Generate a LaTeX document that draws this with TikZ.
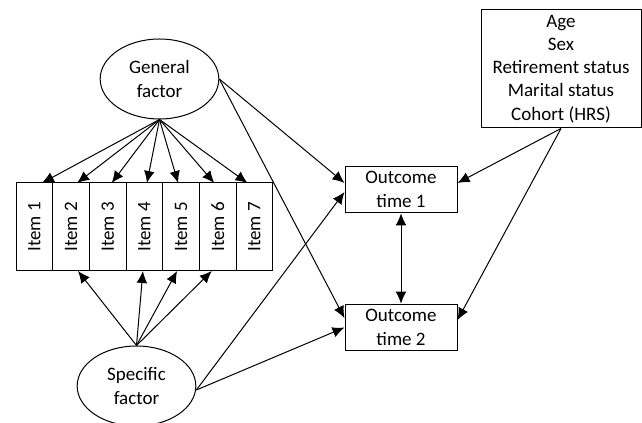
\documentclass[tikz,border=0pt]{standalone}
\usepackage{fontspec}
\setmainfont{Carlito}
\usetikzlibrary{arrows.meta,positioning,shapes}

\begin{document}
\begin{tikzpicture}[x=0.75pt,y=-0.75pt,
            factor/.style={draw,ellipse,minimum width=89pt,minimum height=60pt,align=center,inner sep=0pt},
            item/.style={draw,rectangle,minimum width=27.5pt,minimum height=66pt,inner sep=0pt,outer sep=0pt},
            outcome/.style={draw,rectangle,minimum width=84pt,minimum height=35pt,align=center,inner sep=0pt},
            covar/.style={draw,rectangle,minimum width=120pt,minimum height=88.5pt,align=center,inner sep=0pt},
            every edge/.style={draw,->,line width=0.75pt},
            >={Latex[length=9pt,width=8pt]},
            line width=0.75pt,
            font=\fontsize{14.25pt}{17.4pt}\selectfont
          ]
          \useasboundingbox (0,0) rectangle (642,423);

          %factors
          \node[factor] (gen) at (159.5,79) {General\\factor};
          \node[factor] (spec) at (136.5,386) {Specific\\factor};

          %items
          \node[item] (i1) at (34.4,227) {\rotatebox{90}{Item 1}};
          \node[item,right=0pt of i1] (i2) {\rotatebox{90}{Item 2}};
          \node[item,right=0pt of i2] (i3) {\rotatebox{90}{Item 3}};
          \node[item,right=0pt of i3] (i4) {\rotatebox{90}{Item 4}};
          \node[item,right=0pt of i4] (i5) {\rotatebox{90}{Item 5}};
          \node[item,right=0pt of i5] (i6) {\rotatebox{90}{Item 6}};
          \node[item,right=0pt of i6] (i7) {\rotatebox{90}{Item 7}};

          %outcomes
          \node[outcome] (out1) at (401,189.5) {Outcome\\time 1};
          \node[outcome] (out2) at (401,327.5) {Outcome\\time 2};

          %covariates
          \node[covar] (cov) at (561,69) {Age\\Sex\\Retirement status\\Marital status\\Cohort (HRS)};

          \path
          (gen.south) edge ([xshift=5.6pt]i1.north)
          (gen.south) edge ([xshift=4.5pt]i2.north)
          (gen.south) edge ([xshift=3pt]i3.north)
          (gen.south) edge ([xshift=1.9pt]i4.north)
          (gen.south) edge ([xshift=-2.2pt]i5.north)
          (gen.south) edge ([xshift=-2.6pt]i6.north)
          (gen.south) edge ([xshift=-5.2pt]i7.north)
          (spec.north) edge ([xshift=5.2pt]i2.south)
          (spec.north) edge ([xshift=-1.1pt]i4.south)
          (spec.north) edge ([xshift=-3pt]i5.south)
          (spec.north) edge ([xshift=-4.5pt]i6.south)
          (gen.east) edge ([yshift=4.9pt]out1.west)
          (gen.east) edge ([yshift=7pt]out2.west)
          ([yshift=-3pt]spec.east) edge ([yshift=-1.9pt]out1.west)
          ([yshift=-3pt]spec.east) edge (out2.west)
          (cov.south) edge ([yshift=4.9pt]out1.east)
          (cov.south) edge ([yshift=5.6pt]out2.east)
          (out1.south) edge[<->] (out2.north)
          ;

      \end{tikzpicture}
\end{document}
